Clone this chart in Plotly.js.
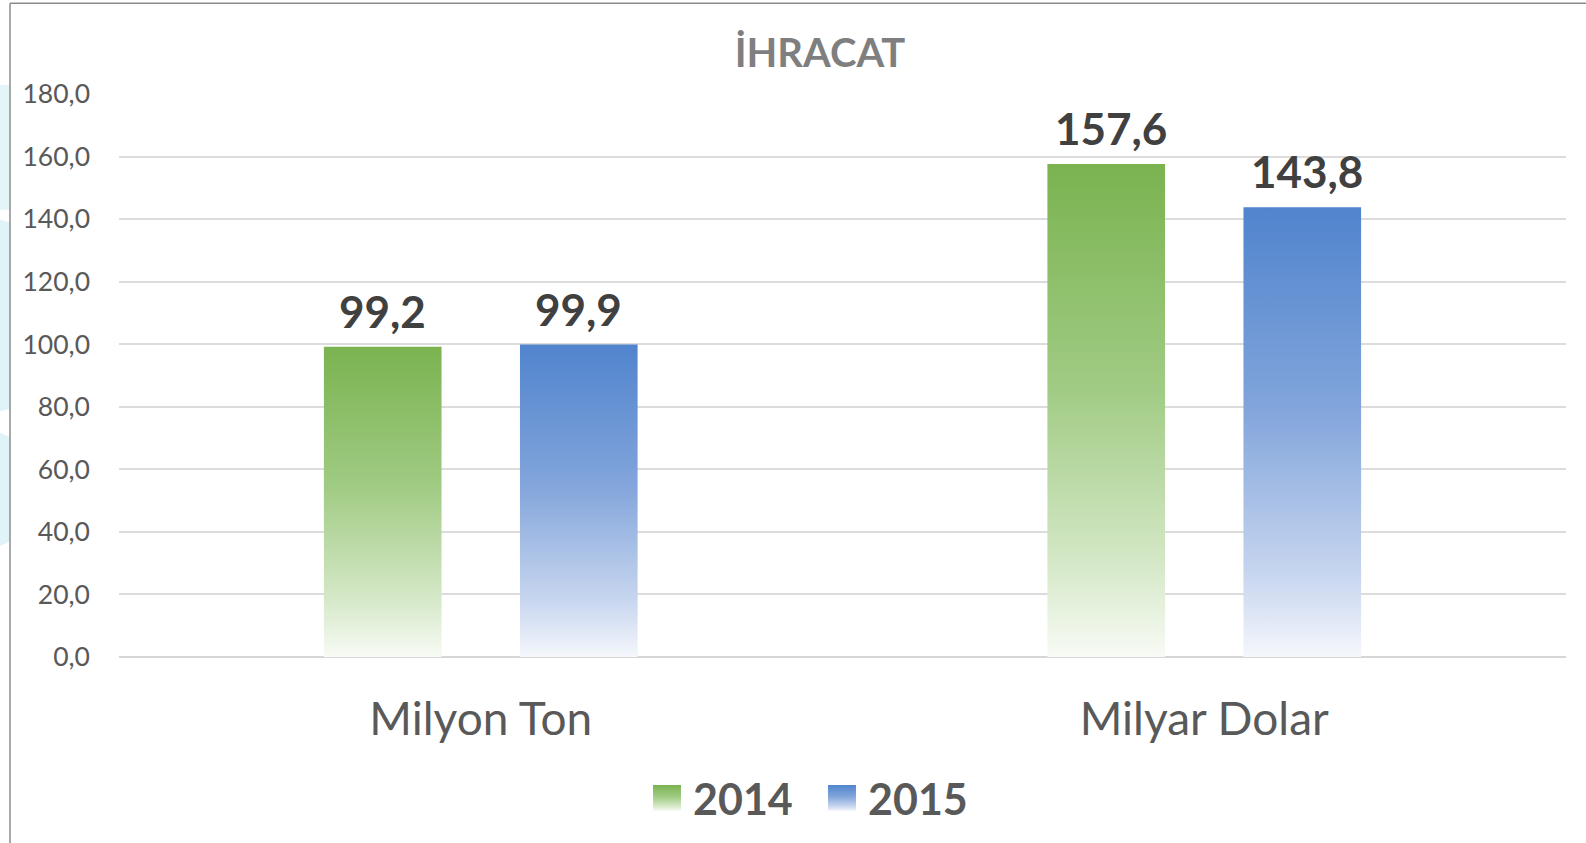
<!DOCTYPE html>
<html>
<head>
<meta charset="utf-8">
<script src="https://cdn.plot.ly/plotly-3.0.1.min.js"></script>
<style>
  html, body { margin: 0; padding: 0; background: #fff; }
  #chart { width: 1586px; height: 843px; }
</style>
</head>
<body>
<div id="chart"></div>
<script>
// ---- data ----
const categories = ["Milyon Ton", "Milyar Dolar"];
const years = ["2014", "2015"];
const values2014 = [99.2, 157.6];
const values2015 = [99.9, 143.8];
const yTicks = [0, 20, 40, 60, 80, 100, 120, 140, 160, 180];
const chartTitle = "İHRACAT";

// ---- styles ----
const baseColors = ["#7DB555", "#5386CE"];
const gradStops = [
  [["0", "#7AB350"], ["0.45", "#A0CB83"], ["0.8", "#D3E7C5"], ["1", "#F8FBF5"]],
  [["0", "#5084CD"], ["0.45", "#82A5DB"], ["0.82", "#C8D6EF"], ["1", "#F5F7FC"]]
];
const FONT = "Lato, 'Open Sans', 'DejaVu Sans', sans-serif";
const bargap = 0.458;
const bargroupgap = 0.40;

const L = 119, R = 20, T = 94, B = 185, W = 1586, H = 843;
const pw = W - L - R, ph = H - T - B;
const px2x = p => (p - L) / pw;
const py2y = p => (H - B - p) / ph;

const series = [values2014, values2015];
const traces = series.map((vals, i) => ({
  type: "bar",
  name: years[i],
  x: categories,
  y: vals,
  marker: { color: baseColors[i], line: { width: 0 } },
  hoverinfo: "skip"
}));

// data labels as annotations above each bar
const slot = (1 - bargap) / 2;
const annotations = [];
series.forEach((vals, i) => {
  vals.forEach((v, j) => {
    annotations.push({
      x: j + (i - 0.5) * slot,
      y: v,
      xref: "x", yref: "y",
      text: v.toFixed(1).replace(".", ","),
      showarrow: false,
      yanchor: "bottom",
      yshift: 8,
      xshift: j === 1 ? 5 : 0,
      font: { family: FONT, size: 44, color: "#404040", weight: 700 }
    });
  });
});

const shapes = [
  // light decorative background peeking on the far left
  { type: "rect", xref: "paper", yref: "paper", x0: px2x(0), x1: px2x(10), y0: py2y(210), y1: py2y(85),
    fillcolor: "#E4F5F8", line: { width: 0 }, layer: "below" },
  { type: "circle", xref: "paper", yref: "paper", x0: px2x(-118), x1: px2x(78), y0: py2y(414), y1: py2y(218),
    fillcolor: "#E0F4F8", line: { width: 0 }, layer: "below" },
  { type: "circle", xref: "paper", yref: "paper", x0: px2x(-80), x1: px2x(40), y0: py2y(550), y1: py2y(430),
    fillcolor: "#E0F4F8", line: { width: 0 }, layer: "below" },
  // white panel covering the chart area
  { type: "rect", xref: "paper", yref: "paper", x0: px2x(10), x1: px2x(1590), y0: py2y(850), y1: py2y(3),
    fillcolor: "#ffffff", line: { width: 0 }, layer: "below" },
  // frame lines
  { type: "line", xref: "paper", yref: "paper", x0: px2x(10), x1: px2x(10), y0: py2y(3), y1: py2y(850),
    line: { color: "#8C8C8C", width: 1.5 } },
  { type: "line", xref: "paper", yref: "paper", x0: px2x(10), x1: px2x(1590), y0: py2y(3), y1: py2y(3),
    line: { color: "#8C8C8C", width: 1.5 } }
];

const layout = {
  width: W, height: H,
  margin: { l: L, r: R, t: T, b: B, pad: 0 },
  paper_bgcolor: "#ffffff",
  plot_bgcolor: "rgba(0,0,0,0)",
  separators: ",.",
  barmode: "group",
  bargap: bargap,
  bargroupgap: bargroupgap,
  title: {
    text: chartTitle,
    xref: "container", x: 820 / W, xanchor: "center",
    yref: "container", y: 1 - 53 / H, yanchor: "middle",
    font: { family: FONT, size: 40, color: "#7F7F7F", weight: 700 }
  },
  xaxis: {
    type: "category",
    showgrid: false, showline: false, zeroline: false,
    ticks: "", ticklabelstandoff: 31,
    tickfont: { family: FONT, size: 46, color: "#595959" }
  },
  yaxis: {
    range: [0, 180],
    tickvals: yTicks,
    tickformat: ".1f",
    showline: false,
    gridcolor: "#DCDCDC", gridwidth: 2,
    zeroline: true, zerolinecolor: "#D6D6D6", zerolinewidth: 2,
    ticks: "", ticklabelstandoff: 28,
    tickfont: { family: FONT, size: 26.5, color: "#595959" }
  },
  showlegend: true,
  legend: {
    orientation: "h",
    entrywidth: 130,
    x: px2x(828), xanchor: "center",
    y: py2y(798), yanchor: "middle",
    font: { family: FONT, size: 43, color: "#595959", weight: 700 },
    itemclick: false, itemdoubleclick: false,
    bgcolor: "rgba(0,0,0,0)"
  },
  annotations: annotations,
  shapes: shapes
};

Plotly.newPlot("chart", traces, layout, { displayModeBar: false, staticPlot: true }).then(gd => {
  const svg = gd.querySelector(".main-svg");
  const NS = "http://www.w3.org/2000/svg";
  let defs = svg.querySelector("defs");
  if (!defs) { defs = document.createElementNS(NS, "defs"); svg.insertBefore(defs, svg.firstChild); }
  gradStops.forEach((stops, i) => {
    const g = document.createElementNS(NS, "linearGradient");
    g.setAttribute("id", "barGrad" + i);
    g.setAttribute("x1", "0"); g.setAttribute("y1", "0");
    g.setAttribute("x2", "0"); g.setAttribute("y2", "1");
    stops.forEach(([o, c]) => {
      const s = document.createElementNS(NS, "stop");
      s.setAttribute("offset", o);
      s.setAttribute("stop-color", c);
      g.appendChild(s);
    });
    defs.appendChild(g);
  });
  gd.querySelectorAll(".barlayer .trace").forEach((tr, i) => {
    tr.querySelectorAll("path").forEach(p => { p.style.fill = "url(#barGrad" + i + ")"; });
  });
  gd.querySelectorAll(".legend .traces").forEach((tr, i) => {
    tr.querySelectorAll(".legendpoints path").forEach(p => {
      p.style.fill = "url(#barGrad" + i + ")";
      p.style.stroke = "none";
      const t = p.getAttribute("transform") || "";
      p.setAttribute("transform", t + " translate(-6,0) scale(2.33,2.17)");
    });
  });
});
</script>
</body>
</html>
